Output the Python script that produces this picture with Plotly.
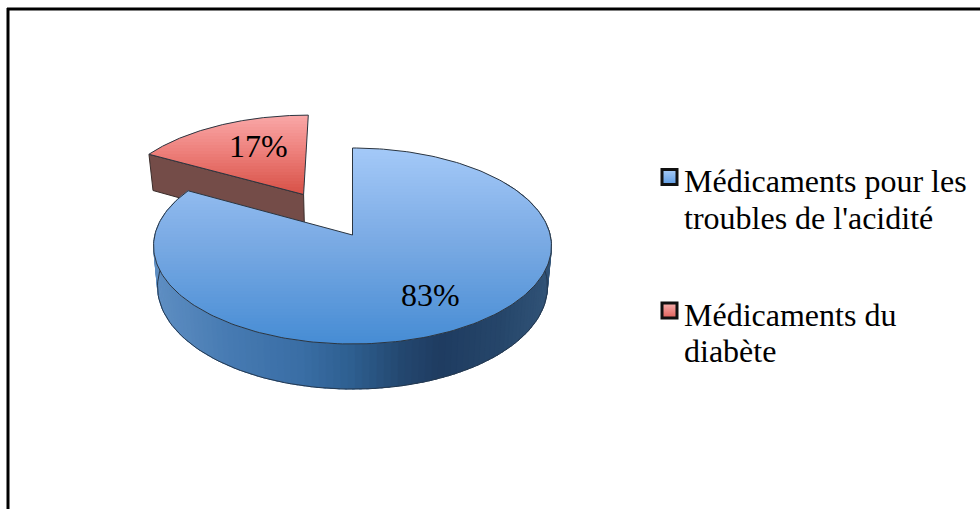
import numpy as np
import plotly.graph_objects as go

# ---- data ----
categories = ["Médicaments pour les troubles de l'acidité", "Médicaments du diabète"]
shares = [83, 17]
share_labels = ["83%", "17%"]
legend_lines = [["Médicaments pour les", "troubles de l'acidité"], ["Médicaments du", "diabète"]]
explode = [0.0, 0.51]

# ---- projection of the tilted pie ----
W, H = 980, 509
CX, CY = 352.5, 235.0
C = -0.1122
A = 70.4
D = 197.7
THICK = 40.0
BOTTOM_SHRINK = 0.98


def project(u, v, drop=False):
    u, v = np.asarray(u, float), np.asarray(v, float)
    w = 1 + C * v
    x = D * u / w
    y = (A * v + CY) / w
    if drop:
        x = x * BOTTOM_SHRINK
        y = y + THICK / w
    return CX + x, y


def mix(stops, t):
    ts = [s[0] for s in stops]
    ch = [np.interp(t, ts, [s[1][i] for s in stops]) for i in range(3)]
    return "rgb(%d,%d,%d)" % tuple(int(round(c)) for c in ch)


def clip(pts, ylim, keep_below):
    out = []
    n = len(pts)
    inside = (lambda p: p[1] >= ylim) if keep_below else (lambda p: p[1] <= ylim)
    for i in range(n):
        a, b = pts[i], pts[(i + 1) % n]
        ia, ib = inside(a), inside(b)
        if ia:
            out.append(a)
        if ia != ib:
            t = (ylim - a[1]) / (b[1] - a[1])
            out.append((a[0] + t * (b[0] - a[0]), ylim))
    return out


fracs = np.array(shares, float) / sum(shares)
ends = np.cumsum(fracs) * 2 * np.pi
starts = ends - fracs * 2 * np.pi
mids = (starts + ends) / 2

fig = go.Figure()


def poly(xs, ys, fill, line=None, lw=0.0):
    fig.add_trace(go.Scatter(
        x=list(xs), y=list(ys), mode="lines", fill="toself", fillcolor=fill,
        line=dict(color=line or fill, width=lw), hoverinfo="skip", showlegend=False))


def sector(i, n=240):
    ox, oy = explode[i] * np.sin(mids[i]), -explode[i] * np.cos(mids[i])
    th = np.linspace(starts[i], ends[i], n)
    return ox, oy, th


def top_face(i, stops, y0, y1):
    ox, oy, th = sector(i)
    u = np.r_[ox, ox + np.sin(th), ox]
    v = np.r_[oy, oy - np.cos(th), oy]
    xs, ys = project(u, v)
    pts = list(zip(xs, ys))
    edges = np.arange(np.floor(ys.min()), np.ceil(ys.max()) + 3, 3.0)
    for a, b in zip(edges[:-1], edges[1:]):
        band = clip(clip(pts, a, True), b + 0.6, False)
        if len(band) >= 3:
            poly([p[0] for p in band], [p[1] for p in band], mix(stops, (a + 1.5 - y0) / (y1 - y0)))
    fig.add_trace(go.Scatter(x=xs, y=ys, mode="lines", line=dict(color="#2b3540", width=1),
                             hoverinfo="skip", showlegend=False))


# ---- red slice: front wall, then top ----
RED_TOP = [(0, (250, 168, 168)), (0.5, (236, 125, 120)), (1, (216, 82, 72))]
ox, oy, th = sector(1)
ua, va = ox, oy
ub, vb = ox + np.sin(starts[1]), oy - np.cos(starts[1])
x1, y1 = project([ub, ua], [vb, va])
x2, y2 = project([ua, ub], [va, vb], drop=True)
poly(np.r_[x1, x2, x1[0]], np.r_[y1, y2, y1[0]], "#744c48", "#3a2c2a", 1)
top_face(1, RED_TOP, 115, 193)

# ---- blue slice: curved wall, then top ----
WALL = [(153, (95, 143, 195)), (230, (70, 122, 178)), (300, (58, 110, 165)), (350, (46, 95, 144)),
        (400, (36, 72, 112)), (440, (31, 60, 97)), (500, (38, 70, 106)), (552, (50, 84, 120))]
th = np.linspace(np.radians(55), ends[0] - 0.01, 130)
for a, b in zip(th[:-1], th[1:]):
    ang = np.array([a, b + 0.012])
    u, v = np.sin(ang), -np.cos(ang)
    xt, yt = project(u, v)
    xb, yb = project(u[::-1], v[::-1], drop=True)
    xm = xt.mean()
    col = "rgb(%d,%d,%d)" % tuple(
        int(np.interp(xm, [s[0] for s in WALL], [s[1][k] for s in WALL])) for k in range(3))
    poly(np.r_[xt, xb, xt[0]], np.r_[yt, yb, yt[0]], col, col, 0.7)
u, v = np.sin(th), -np.cos(th)
xb, yb = project(u, v, drop=True)
fig.add_trace(go.Scatter(x=xb, y=yb, mode="lines", line=dict(color="#24384f", width=1),
                         hoverinfo="skip", showlegend=False))
BLUE_TOP = [(0, (164, 201, 248)), (0.5, (120, 169, 227)), (1, (70, 140, 212))]
top_face(0, BLUE_TOP, 148, 344)

# ---- legend swatches ----
swatch_y = [177, 310.5]
swatch_cols = [("#5d9be3", "#a9cdf8"), ("#e0605a", "#f7b0ae")]
for yy, (c1, c2), name in zip(swatch_y, swatch_cols, categories):
    fig.add_trace(go.Scatter(
        x=[669.5], y=[yy], mode="markers", name=name, showlegend=False, hoverinfo="skip",
        marker=dict(symbol="square", size=15, color=c2,
                    gradient=dict(type="vertical", color=c1),
                    line=dict(color="#111111", width=3))))

SERIF = "Liberation Serif"
FS = 32
anns = []
for txt, (x, y) in zip(share_labels, [(430, 295), (258, 146)]):
    anns.append(dict(x=x, y=y, text=txt, showarrow=False, xref="x", yref="y",
                     font=dict(family=SERIF, size=FS, color="#000000")))
line_y = [[181, 218], [315, 351]]
for lines, ys in zip(legend_lines, line_y):
    for txt, y in zip(lines, ys):
        anns.append(dict(x=682, y=y, text=txt, showarrow=False, xanchor="left", xref="x", yref="y",
                         font=dict(family=SERIF, size=FS, color="#000000")))

fig.update_layout(
    width=W, height=H, margin=dict(l=0, r=0, t=0, b=0), autosize=False,
    paper_bgcolor="white", plot_bgcolor="white", showlegend=False, annotations=anns,
    xaxis=dict(range=[0, W], visible=False, fixedrange=True),
    yaxis=dict(range=[H, 0], visible=False, fixedrange=True),
    shapes=[
        dict(type="line", x0=8, x1=8, y0=8, y1=H, line=dict(color="#000000", width=3), layer="above"),
        dict(type="line", x0=7, x1=W, y0=9, y1=9, line=dict(color="#000000", width=3), layer="above"),
    ],
)
fig.write_html("out.html", config={"displayModeBar": False},
               post_script="document.body.style.margin='0';document.documentElement.style.overflow='hidden';")
